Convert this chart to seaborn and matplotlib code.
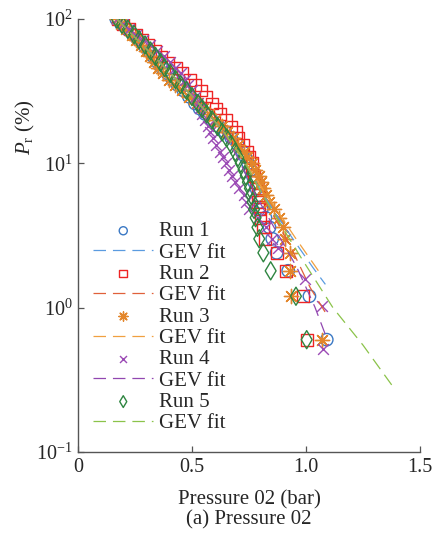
import matplotlib
matplotlib.use("Agg")
import matplotlib.pyplot as plt
import seaborn as sns

# exceedance levels (%)
pr_levels = [100, 92, 85, 78, 72, 66, 60, 55, 50, 46, 42, 38, 35, 32, 29, 26, 24, 22, 20, 18,
             16.5, 15, 13.5, 12, 11, 10, 9, 8.2, 7.4, 6.7, 6.0, 5.4, 4.8, 4.2, 3.6, 3.0, 2.4, 1.8, 1.2, 0.6]
pr_levels_run4 = [100, 92, 85, 78, 72, 66, 60, 55, 50, 46, 42, 38, 35, 32, 29, 26, 24, 22, 20, 18,
                  16.5, 15, 13.5, 12, 11, 10, 9, 8.2, 7.4, 6.7, 6.0, 5.4, 4.8, 4.2, 3.6, 3.0, 2.6, 1.58, 1.03, 0.52]

# pressure (bar) of each run at those levels
run1_x = [0.168, 0.189, 0.214, 0.240, 0.262, 0.287, 0.310, 0.330, 0.350, 0.367, 0.392, 0.414, 0.436, 0.462,
          0.486, 0.513, 0.533, 0.557, 0.586, 0.618, 0.645, 0.672, 0.700, 0.722, 0.735, 0.746, 0.757, 0.766,
          0.773, 0.782, 0.790, 0.798, 0.806, 0.822, 0.840, 0.852, 0.871, 0.922, 1.015, 1.091]
run2_x = [0.174, 0.198, 0.226, 0.256, 0.280, 0.306, 0.340, 0.366, 0.394, 0.430, 0.458, 0.490, 0.512, 0.538,
          0.560, 0.586, 0.604, 0.624, 0.648, 0.672, 0.694, 0.702, 0.722, 0.740, 0.752, 0.764, 0.762, 0.772,
          0.782, 0.790, 0.796, 0.790, 0.796, 0.800, 0.813, 0.820, 0.872, 0.912, 0.988, 1.004]
run3_x = [0.170, 0.190, 0.212, 0.236, 0.255, 0.278, 0.298, 0.316, 0.334, 0.350, 0.374, 0.398, 0.424, 0.456,
          0.488, 0.524, 0.548, 0.574, 0.602, 0.630, 0.654, 0.678, 0.702, 0.726, 0.742, 0.762, 0.778, 0.792,
          0.802, 0.812, 0.826, 0.838, 0.858, 0.880, 0.900, 0.908, 0.930, 0.932, 0.933, 1.069]
run4_x = [0.172, 0.196, 0.224, 0.256, 0.284, 0.316, 0.348, 0.376, 0.404, 0.426, 0.452, 0.470, 0.484, 0.500,
          0.512, 0.526, 0.534, 0.545, 0.556, 0.568, 0.578, 0.592, 0.606, 0.624, 0.636, 0.650, 0.664, 0.676,
          0.690, 0.706, 0.726, 0.735, 0.750, 0.790, 0.826, 0.850, 0.877, 0.996, 1.069, 1.076]
run5_x = [0.171, 0.193, 0.219, 0.246, 0.268, 0.294, 0.318, 0.340, 0.362, 0.380, 0.405, 0.428, 0.450, 0.476,
          0.500, 0.526, 0.544, 0.564, 0.588, 0.612, 0.632, 0.652, 0.672, 0.690, 0.702, 0.714, 0.726, 0.736,
          0.745, 0.754, 0.760, 0.766, 0.772, 0.779, 0.787, 0.795, 0.813, 0.845, 0.956, 1.003]

# GEV fits, read as points along each dashed curve
fit1_x = [0.17, 0.30, 0.42, 0.52, 0.62, 0.72, 0.80, 0.87, 0.93, 1.03, 1.085]
fit1_pr = [100, 62, 40, 27, 18, 11, 6.5, 4.4, 3.2, 1.9, 1.45]
fit2_x = [0.17, 0.30, 0.42, 0.52, 0.62, 0.72, 0.80, 0.87, 0.94, 1.018, 1.088]
fit2_pr = [100, 62, 40, 27, 18, 11, 6.3, 4.0, 2.5, 1.38, 0.91]
fit3_x = [0.17, 0.30, 0.42, 0.52, 0.62, 0.72, 0.80, 0.87, 0.95, 1.06]
fit3_pr = [100, 62, 40, 27, 18, 11, 7.0, 4.8, 3.1, 1.75]
fit4_x = [0.17, 0.30, 0.42, 0.52, 0.62, 0.70, 0.78, 0.86, 0.96, 1.039, 1.09]
fit4_pr = [100, 62, 40, 27, 18, 11, 6.0, 3.6, 1.9, 1.01, 0.62]
fit5_x = [0.17, 0.30, 0.42, 0.52, 0.62, 0.72, 0.80, 0.87, 0.98, 1.118, 1.25, 1.386]
fit5_pr = [100, 62, 40, 27, 18, 11, 6.4, 4.2, 2.2, 1.0, 0.55, 0.277]

run_labels = ["Run 1", "Run 2", "Run 3", "Run 4", "Run 5"]
marker_colors = ["#3a78c4", "#ee2424", "#e3862b", "#9b4bb5", "#2e8540"]
fit_colors = ["#5a9be0", "#e0603a", "#f0a040", "#9147b0", "#8bc34a"]

sns.set_style("ticks")
plt.rcParams["font.family"] = ["Liberation Serif", "DejaVu Serif"]
plt.rcParams["mathtext.fontset"] = "custom"
plt.rcParams["mathtext.rm"] = "Liberation Serif"
plt.rcParams["mathtext.it"] = "Liberation Serif:italic"
plt.rcParams["lines.scale_dashes"] = False

fig = plt.figure(figsize=(4.34, 5.36), dpi=100)
ax = fig.add_axes([78 / 434, 1 - 452 / 536, 342 / 434, 433 / 536])

runs = [(run1_x, pr_levels, "o", 80), (run2_x, pr_levels, "s", 72), (run3_x, pr_levels, (8, 2, 0), 105),
        (run4_x, pr_levels_run4, "x", 60), (run5_x, pr_levels, "d", 85)]
fits = [(fit1_x, fit1_pr), (fit2_x, fit2_pr), (fit3_x, fit3_pr), (fit4_x, fit4_pr), (fit5_x, fit5_pr)]

handles = []
labels = []
for i, ((xs, prs, mk, sz), (fx, fp)) in enumerate(zip(runs, fits)):
    if mk in ("x", (8, 2, 0)):
        sns.scatterplot(x=xs, y=prs, marker=mk, s=sz, color=marker_colors[i], linewidth=1.0, ax=ax)
    else:
        sns.scatterplot(x=xs, y=prs, marker=mk, s=sz, facecolor="none", edgecolor=marker_colors[i],
                        linewidth=1.0, ax=ax)
    handles.append(ax.collections[-1])
    labels.append(run_labels[i])
    sns.lineplot(x=fx, y=fp, sort=False, estimator=None, color=fit_colors[i], linewidth=0.9,
                 linestyle=(0, (9, 5)), ax=ax)
    handles.append(ax.lines[-1])
    labels.append("GEV fit")

ax.set_yscale("log")
ax.set_xlim(0, 1.5)
ax.set_ylim(0.1, 100)
ax.set_xticks([0, 0.5, 1.0, 1.5])
ax.set_xticklabels(["0", "0.5", "1.0", "1.5"])
ax.set_yticks([0.1, 1, 10, 100])
ax.minorticks_off()
ax.tick_params(direction="in", length=4, width=0.9, color="#555555", labelsize=14.5, pad=4)
for side in ["top", "right"]:
    ax.spines[side].set_visible(False)
for side in ["left", "bottom"]:
    ax.spines[side].set_color("#555555")
    ax.spines[side].set_linewidth(1.0)

ax.set_xlabel("Pressure 02 (bar)", fontsize=15)
ax.xaxis.set_label_coords(0.5, -0.088)
ax.set_ylabel(r"$P_\mathrm{r}$ (%)", fontsize=15)
ax.yaxis.set_label_coords(-0.12, 0.75)

leg = ax.legend(handles, labels, loc="upper left", bbox_to_anchor=(0.044, 0.532), frameon=False,
                fontsize=15, handlelength=2.9, handletextpad=0.25, labelspacing=0.085,
                borderpad=0, borderaxespad=0, markerscale=0.65)

fig.text(249 / 434, 1 - 520 / 536, "(a) Pressure 02", ha="center", va="center", fontsize=15)

fig.savefig("out.png", dpi=100)
